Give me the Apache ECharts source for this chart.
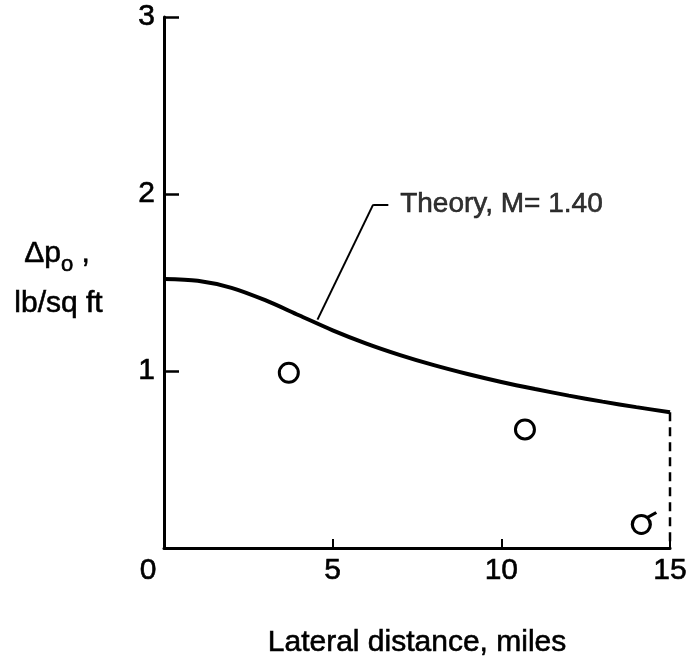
<!DOCTYPE html>
<html><head><meta charset="utf-8">
<script src="https://cdn.jsdelivr.net/npm/echarts@6/dist/echarts.min.js"></script>
<style>html,body{margin:0;padding:0;background:#fff}#c{width:689px;height:657px}</style>
</head><body><div id="c"></div>
<script>
// Data
const theoryX = [0,1,2,3,4,5,6,7,8,9,10,11,12,13,14,15];
const theoryY = [1.52,1.51,1.47,1.40,1.315,1.23,1.155,1.09,1.033,0.983,0.938,0.898,0.861,0.827,0.796,0.767];
const measuredX = [3.7, 10.7];
const measuredY = [0.99, 0.67];
const flaggedX = [14.15];
const flaggedY = [0.13];
const xTicks = [0,5,10,15];
const yTicks = [0,1,2,3];
const theoryLabel = 'Theory, M= 1.40';
const leader = [[4.55,1.29],[6.2,1.94],[6.65,1.94]];

const FONT = 'Liberation Sans';
const INK = '#000';
const TB = {textBorderColor:'#000', textBorderWidth:0.6};
const last = theoryX.length - 1;
const chart = echarts.init(document.getElementById('c'), null, {renderer:'canvas'});
chart.setOption({
  animation:false,
  backgroundColor:'#fff',
  grid:{left:164, right:19, top:17, bottom:109, outerBoundsMode:'none', containLabel:false},
  xAxis:{type:'value', min:0, max:15, interval:5,
    name:'Lateral distance, miles', nameLocation:'middle', nameGap:80,
    nameTextStyle:Object.assign({fontFamily:FONT, fontSize:30, color:INK}, TB),
    axisLine:{lineStyle:{color:INK, width:3}},
    axisTick:{inside:true, length:9, lineStyle:{color:INK, width:2}},
    axisLabel:Object.assign({margin:8, fontFamily:FONT, fontSize:30, color:INK,
      formatter:v => xTicks.includes(v) ? (v===0 ? '{z|0}' : String(v)) : '',
      rich:{z:Object.assign({fontFamily:FONT, fontSize:30, color:INK, padding:[0,32,0,0]}, TB)}}, TB),
    splitLine:{show:false}},
  yAxis:{type:'value', min:0, max:3, interval:1,
    axisLine:{lineStyle:{color:INK, width:3}},
    axisTick:{inside:true, length:15, lineStyle:{color:INK, width:2.5}},
    axisLabel:Object.assign({margin:9, fontFamily:FONT, fontSize:30, color:INK,
      formatter:v => (v===0 || !yTicks.includes(v)) ? '' : String(v)}, TB),
    splitLine:{show:false}},
  series:[
    {type:'line', data:theoryX.map((x,i)=>[x,theoryY[i]]), smooth:0.3, showSymbol:false,
      lineStyle:{color:INK, width:4},
      markLine:{silent:true, symbol:'none', label:{show:false},
        lineStyle:{color:INK, width:2, type:'solid'},
        data:[[{coord:leader[0]},{coord:leader[1]}],[{coord:leader[1]},{coord:leader[2]}]]}},
    {type:'line', data:[[theoryX[last],theoryY[last]],[theoryX[last],0]], showSymbol:false,
      lineStyle:{color:INK, width:2.5, type:[9,6]}},
    {type:'scatter', data:measuredX.map((x,i)=>[x,measuredY[i]]), symbol:'circle', symbolSize:19,
      itemStyle:{color:'rgba(0,0,0,0)', borderColor:INK, borderWidth:3, opacity:1}},
    {type:'scatter', data:flaggedX.map((x,i)=>[x,flaggedY[i]]),
      symbol:'path://M2,19 A9,9 0 1,1 20,19 A9,9 0 1,1 2,19 Z M17,12 L26,7',
      symbolSize:[24,21], symbolOffset:[3,-2],
      itemStyle:{color:'rgba(0,0,0,0)', borderColor:INK, borderWidth:3, opacity:1}},
    {type:'scatter', data:[[leader[2][0]+0.35, leader[2][1]]], symbolSize:0,
      label:Object.assign({show:true, position:'right', distance:0, formatter:theoryLabel,
        fontFamily:FONT, fontSize:28, color:INK}, TB)}
  ],
  graphic:[
    {type:'text', left:24, top:238, style:{text:'{a|Δp}{s|o}{a| ,}', rich:{
      a:{fontFamily:FONT, fontSize:30, fill:INK, stroke:'#000', lineWidth:0.6},
      s:{fontFamily:FONT, fontSize:22, fill:INK, stroke:'#000', lineWidth:0.6, padding:[24,0,0,0]}}}},
    {type:'text', left:14, top:288, style:{text:'lb/sq ft', fontFamily:FONT, fontSize:30, fill:INK, stroke:'#000', lineWidth:0.6}}
  ]
});
</script></body></html>
